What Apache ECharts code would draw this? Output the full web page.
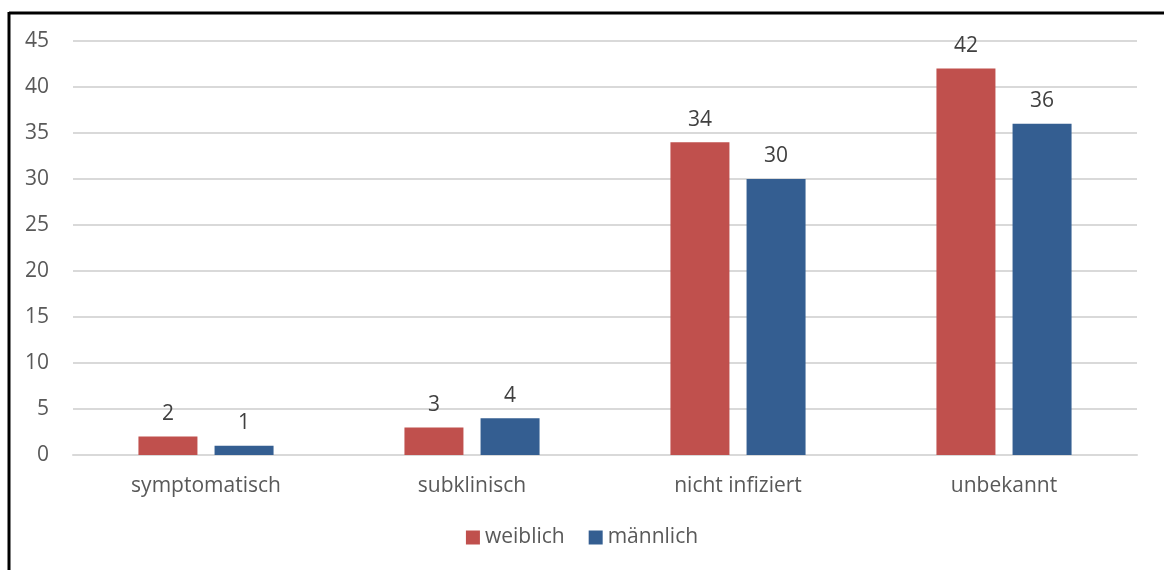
<!DOCTYPE html>
<html>
<head>
<meta charset="utf-8">
<script src="https://cdn.jsdelivr.net/npm/echarts@6/dist/echarts.min.js"></script>
<style>
  html, body { margin: 0; padding: 0; background: #fff; }
  #chart { width: 1164px; height: 570px; }
</style>
</head>
<body>
<div id="chart"></div>
<script>
const categories = ['symptomatisch', 'subklinisch', 'nicht infiziert', 'unbekannt'];
const weiblich = [2, 3, 34, 42];
const maennlich = [1, 4, 30, 36];
const seriesNames = ['weiblich', 'männlich'];

const textColor = '#595959';
const fontFamily = '"Open Sans", "Noto Sans", sans-serif';

const chart = echarts.init(document.getElementById('chart'), null, { renderer: 'canvas' });

const barLabel = {
  show: true,
  position: 'top',
  distance: 12,
  color: '#404040',
  fontSize: 21,
  fontFamily: fontFamily
};

chart.setOption({
  animation: false,
  backgroundColor: '#fff',
  grid: { left: 73, right: 27, top: 41, bottom: 115, containLabel: false },
  xAxis: {
    type: 'category',
    data: categories,
    axisLine: { show: true, lineStyle: { color: '#D9D9D9', width: 2 } },
    axisTick: { show: false },
    axisLabel: { color: textColor, fontSize: 21, fontFamily: fontFamily, margin: 21 }
  },
  yAxis: {
    type: 'value',
    min: 0,
    max: 45,
    interval: 5,
    axisLine: { show: false },
    axisTick: { show: false },
    splitLine: { lineStyle: { color: '#D9D9D9', width: 2 } },
    axisLabel: { color: textColor, fontSize: 21, fontFamily: fontFamily, margin: 24 }
  },
  legend: {
    data: seriesNames,
    bottom: 17,
    left: 'center',
    itemWidth: 14,
    itemHeight: 14,
    itemGap: 24,
    icon: 'rect',
    textStyle: { color: textColor, fontSize: 21, fontFamily: fontFamily }
  },
  series: [
    {
      name: seriesNames[0],
      type: 'bar',
      data: weiblich,
      barWidth: 59,
      barGap: '29%',
      itemStyle: { color: '#C0504D' },
      label: barLabel
    },
    {
      name: seriesNames[1],
      type: 'bar',
      data: maennlich,
      barWidth: 59,
      itemStyle: { color: '#345E91' },
      label: barLabel
    }
  ],
  graphic: [
    { type: 'line', shape: { x1: 9, y1: 13, x2: 1164, y2: 13 }, style: { stroke: '#000', lineWidth: 3 } },
    { type: 'line', shape: { x1: 9, y1: 12, x2: 9, y2: 570 }, style: { stroke: '#000', lineWidth: 3 } }
  ]
});
</script>
</body>
</html>
